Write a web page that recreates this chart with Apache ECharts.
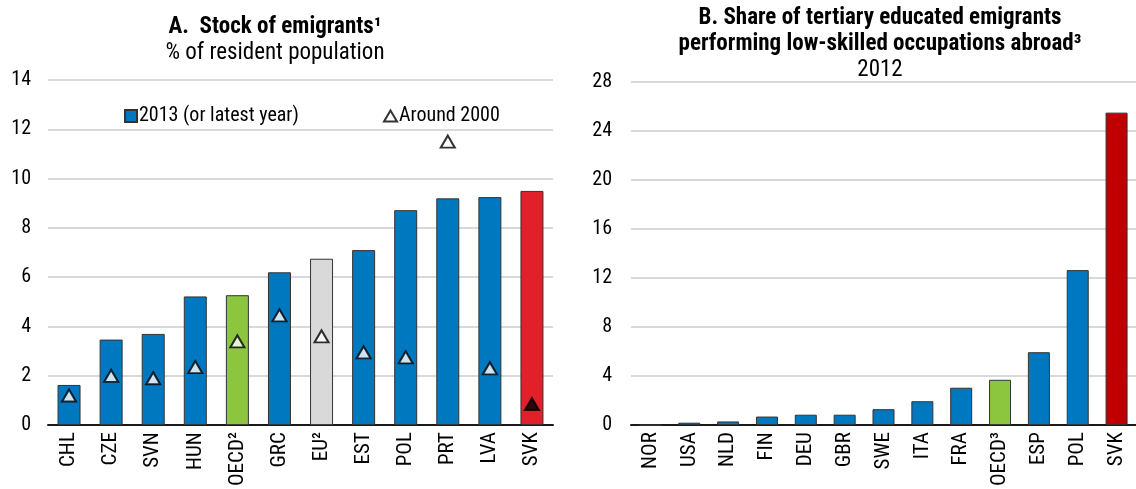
<!DOCTYPE html>
<html>
<head>
<meta charset="utf-8">
<script src="https://cdn.jsdelivr.net/npm/echarts@6/dist/echarts.min.js"></script>
<style>
html,body{margin:0;padding:0;background:#fff;}
#chart{width:1136px;height:489px;}
</style>
</head>
<body>
<div id="chart"></div>
<script>
// ---- Panel A data ----
const catsA = ['CHL','CZE','SVN','HUN','OECD²','GRC','EU²','EST','POL','PRT','LVA','SVK'];
const stock2013 = [1.63, 3.47, 3.70, 5.22, 5.27, 6.20, 6.75, 7.10, 8.72, 9.20, 9.25, 9.50];
const around2000 = [1.2, 2.0, 1.9, 2.35, 3.4, 4.45, 3.6, 2.95, 2.75, 11.5, 2.3, 0.85];
const ticksA = [0, 2, 4, 6, 8, 10, 12, 14];

// ---- Panel B data ----
const catsB = ['NOR','USA','NLD','FIN','DEU','GBR','SWE','ITA','FRA','OECD³','ESP','POL','SVK'];
const lowSkilled = [0, 0.2, 0.3, 0.7, 0.85, 0.85, 1.3, 1.95, 3.05, 3.7, 5.95, 12.65, 25.5];
const ticksB = [0, 4, 8, 12, 16, 20, 24, 28];

// ---- Styles ----
const FONT = '"Roboto Condensed","Liberation Sans",Arial,sans-serif';
const BLUE = '#0078c0';
const colorA = {'OECD²':'#8cc63f','EU²':'#d9d9d9','SVK':'#e2202a'};
const colorB = {'OECD³':'#8cc63f','SVK':'#c00000'};

const barsA = stock2013.map((v,i)=>({value:v, itemStyle:{color: colorA[catsA[i]] || BLUE}}));
const triA = around2000.map((v,i)=>({value:v, itemStyle: catsA[i]==='SVK' ? {color:'#000'} : {}}));
const barsB = lowSkilled.map((v,i)=>({value:v, itemStyle:{color: colorB[catsB[i]] || BLUE}}));

function yAxis(idx, ticks, margin){
  return {
    type:'value', gridIndex:idx, min:ticks[0], max:ticks[ticks.length-1],
    interval: ticks[1]-ticks[0],
    axisLine:{show:false}, axisTick:{show:false},
    axisLabel:{margin:margin, color:'#000', fontFamily:FONT, fontSize:20},
    splitLine:{lineStyle:{color:'#d9d9d9', width:2}}
  };
}
function xAxis(idx, cats){
  return {
    type:'category', gridIndex:idx, data:cats,
    axisLine:{lineStyle:{color:'#1a1a1a', width:2}},
    axisTick:{show:false},
    axisLabel:{rotate:90, margin:7, interval:0, color:'#000', fontFamily:FONT, fontSize:21}
  };
}
function title(text, x, y, bold){
  return {type:'text', x:x, y:y, style:{text:text, font:(bold?'bold ':'')+'23px '+FONT, fill:'#000', textAlign:'center', textVerticalAlign:'middle'}};
}

const chart = echarts.init(document.getElementById('chart'));
chart.setOption({
  animation:false,
  backgroundColor:'#fff',
  graphic:[
    title('A.  Stock of emigrants¹', 275, 27, true),
    title('% of resident population', 275, 53, false),
    title('B. Share of tertiary educated emigrants', 880, 18, true),
    title('performing low-skilled occupations abroad³', 880, 44, true),
    title('2012', 880, 70, false)
  ],
  legend:[
    {data:['2013 (or latest year)'], left:119, top:101, icon:'rect', itemWidth:12, itemHeight:12,
     textStyle:{color:'#000', fontFamily:FONT, fontSize:20, padding:[0,0,0,-3]}},
    {data:['Around 2000'], left:378, top:101, itemWidth:13, itemHeight:11,
     textStyle:{color:'#000', fontFamily:FONT, fontSize:20, padding:[0,0,0,-3]}}
  ],
  grid:[
    {left:48, top:80, width:505, height:351},
    {left:631, top:82, width:515, height:348.5}
  ],
  xAxis:[xAxis(0, catsA), xAxis(1, catsB)],
  yAxis:[yAxis(0, ticksA, 17), yAxis(1, ticksB, 19)],
  series:[
    {name:'2013 (or latest year)', type:'bar', xAxisIndex:0, yAxisIndex:0, data:barsA, barWidth:23,
     itemStyle:{color:BLUE, borderColor:'#333', borderWidth:1}},
    {name:'Around 2000', type:'scatter', xAxisIndex:0, yAxisIndex:0, data:triA, symbol:'triangle', symbolSize:[14,12],
     itemStyle:{color:'#fff', borderColor:'#000', borderWidth:2}, z:5},
    {name:'Share', type:'bar', xAxisIndex:1, yAxisIndex:1, data:barsB, barWidth:22,
     itemStyle:{color:BLUE, borderColor:'#333', borderWidth:1}}
  ]
});
</script>
</body>
</html>
